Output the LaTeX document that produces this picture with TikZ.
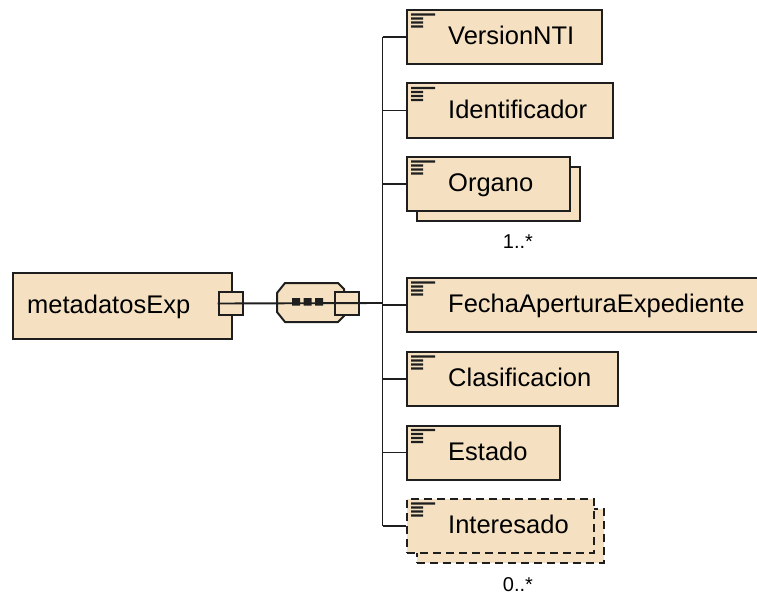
\documentclass[tikz,border=0pt]{standalone}
\usepackage{fontspec}
\setmainfont{Liberation Sans}
\definecolor{elemfill}{HTML}{F5E1C2}
\definecolor{elemline}{HTML}{1E1E1E}
\begin{document}
\begin{tikzpicture}[x=1pt,y=-1pt,
  elem/.style={draw=elemline, line width=2pt, fill=elemfill, rectangle,
    anchor=north west, inner sep=0pt, minimum height=54pt},
  optelem/.style={elem, dash pattern=on 8pt off 5pt},
  elemname/.style={anchor=base west, inner sep=0pt,
    font=\fontsize{25.5}{30}\selectfont, text=black},
  card/.style={font=\fontsize{20}{24}\selectfont, inner sep=0pt, text=black},
  port/.style={draw=elemline, line width=2pt, fill=elemfill,
    minimum width=24pt, minimum height=23pt, inner sep=0pt},
  wire/.style={draw=elemline, line width=1.9pt},
  docicon/.pic={
    \fill[elemline]
      (5,4.4) rectangle (29,6.6)
      (5,8.4) rectangle (17,10.6)
      (5,12.4) rectangle (17,14.6)
      (5,16.4) rectangle (17,18.6);
  }
]
\useasboundingbox (0,0) rectangle (757,599);
\clip (0,0) rectangle (757,599);

% root element with its child port
\node[elem, minimum width=219pt, minimum height=66pt] (main) at (12,271.5) {};
\node[elemname] (maintxt) at ([shift={(15,7.5)}]main.west) {metadatosExp};
\node[port] (mport) at (230.5,303.5) {};

% sequence compositor
\draw[draw=elemline, line width=2pt, fill=elemfill]
  (277,293) -- (285,283) -- (338,283) -- (344,289) -- (344,316)
  -- (338,322) -- (285,322) -- (277,312) -- cycle;
\node[port] (seqport) at (346.5,303) {};
\coordinate (bus) at (382.5,303);
\draw[wire] (mport.west) -- (bus);
\fill[elemline] (292,298) rectangle (300,305.5)
                (303.5,298) rectangle (311.5,305.5)
                (315,298) rectangle (323,305.5);

% child elements
\node[elem, minimum width=195pt] (ver) at (406,9) {};
\node[elem, minimum width=206pt] (idf) at (406,82.5) {};
\node[elem, minimum width=163pt] (orgB) at (416,166) {};
\node[elem, minimum width=163pt] (org) at (406,156) {};
\node[elem, minimum width=380pt] (fecha) at (406,277) {};
\node[elem, minimum width=211pt] (clas) at (406,351) {};
\node[elem, minimum width=153pt] (est) at (406,424.5) {};
\node[optelem, minimum width=187pt] (intB) at (416,508) {};
\node[optelem, minimum width=187pt] (int) at (406,498) {};

\foreach \n/\t in {ver/VersionNTI, idf/Identificador, org/Organo,
    fecha/FechaAperturaExpediente, clas/Clasificacion, est/Estado,
    int/Interesado} {
  \pic at (\n.north west) {docicon};
  \node[elemname] (\n txt) at ([shift={(42,7.5)}]\n.west) {\t};
}

% connectors from the sequence bus to each child
\draw[wire] (bus |- ver.west) -- (bus |- int.west);
\foreach \n in {ver, idf, org, fecha, clas, est, int}
  \draw[wire] (bus |- \n.west) -- (\n.west);

% occurrence ranges
\node[card] (orgcard) at (518,242) {1..*};
\node[card] (intcard) at (518,585) {0..*};
\end{tikzpicture}
\end{document}
